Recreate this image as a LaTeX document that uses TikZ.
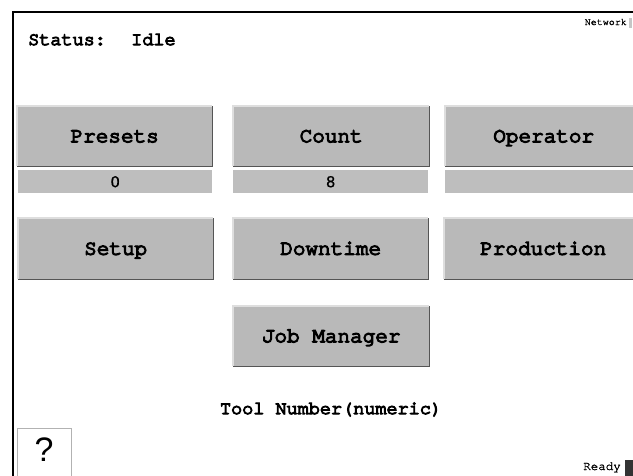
\documentclass[tikz,border=0pt]{standalone}
\usepackage{fontspec}
\newfontfamily\panelfont[FakeBold=6]{TeX Gyre Cursor}
\newfontfamily\tinyfont[FakeBold=1.5]{TeX Gyre Cursor}
\newfontfamily\valuefont[FakeBold=0.6]{DejaVu Sans}
\newfontfamily\helpfont{Liberation Sans}
\definecolor{btnface}{RGB}{185,185,185}
\definecolor{btnlight}{RGB}{222,222,222}
\definecolor{btnshade}{RGB}{85,85,85}
\definecolor{barface}{RGB}{190,190,190}
\tikzset{
  panelbtn/.style={fill=btnface, inner sep=0pt, anchor=north west,
    text height=12pt, text depth=0pt,
    font=\panelfont\fontsize{21}{21}\selectfont},
  valuebar/.style={fill=barface, inner sep=0pt, anchor=north west,
    text height=11pt, text depth=0pt,
    font=\valuefont\fontsize{15}{15}\selectfont},
  caption/.style={inner sep=0pt, font=\panelfont\fontsize{18.5}{18.5}\selectfont},
  smallcap/.style={inner sep=0pt, font=\tinyfont\fontsize{#1}{#1}\selectfont},
  bevellight/.style={draw=btnlight, line width=1.2pt},
  bevelshade/.style={draw=btnshade, line width=1.2pt},
}
% a bevelled push button: name, left, top, right, bottom, label
\newcommand\panelbutton[6]{%
  \node[panelbtn, minimum width={(#4-#2)*1pt}, minimum height={(#5-#3)*1pt}]
    (#1) at (#2,#3) {#6};
  \draw[bevellight] (#1.south west) -- (#1.north west) -- (#1.north east);
  \draw[bevelshade] (#1.north east) -- (#1.south east) -- (#1.south west);
}
% a read-out bar under a button: name, left, top, right, bottom, value
\newcommand\readout[6]{%
  \node[valuebar, minimum width={(#4-#2)*1pt}, minimum height={(#5-#3)*1pt}]
    (#1) at (#2,#3) {#6};
}
\begin{document}
\begin{tikzpicture}[x=1pt, y=-1pt]
  \useasboundingbox (0,0) rectangle (633,475);
  \clip (0,0) rectangle (633,475);
  \fill[white] (0,0) rectangle (633,475);

  % screen frame
  \draw[line width=2pt] (13,476) -- (13,12) -- (634,12);

  % status line
  \node[caption, anchor=base west] (statuslbl) at (28,45) {Status:};
  \node[caption, anchor=base west] (statusval) at (131,45) {Idle};
  \node[smallcap=10, anchor=base east] (network) at (627,25) {Network};
  \fill[gray!45] (629,18) rectangle (632,28);

  % first row of buttons with their read-outs
  \panelbutton{presets}{17}{106}{212}{166}{Presets}
  \panelbutton{count}{233}{106}{429}{166}{Count}
  \panelbutton{operator}{445}{106}{642}{166}{Operator}
  \readout{presetsval}{18}{170}{212}{193}{0}
  \readout{countval}{233}{170}{428}{193}{8}
  \readout{operatorval}{445}{170}{642}{193}{}

  % second row
  \panelbutton{setup}{18}{218}{213}{279}{Setup}
  \panelbutton{downtime}{233}{218}{428}{279}{Downtime}
  \panelbutton{production}{444}{218}{642}{279}{Production}

  % third row
  \panelbutton{jobmgr}{233}{306}{429}{366}{Job Manager}

  % prompt
  \node[caption, anchor=base] (prompt) at (331,414) {Tool Number(numeric)};

  % help key
  \node[draw=gray!60, fill=white, line width=1pt, inner sep=0pt, anchor=north west,
        minimum width=54pt, minimum height=52pt] (help) at (17,428) {};
  \node[inner sep=0pt, font=\helpfont\fontsize{34}{34}\selectfont] (helpq) at (44,450) {?};

  % ready indicator
  \node[smallcap=12.5, anchor=base east] (ready) at (621,470) {Ready};
  \fill[black!80] (625,460) rectangle (634,476);
\end{tikzpicture}
\end{document}
